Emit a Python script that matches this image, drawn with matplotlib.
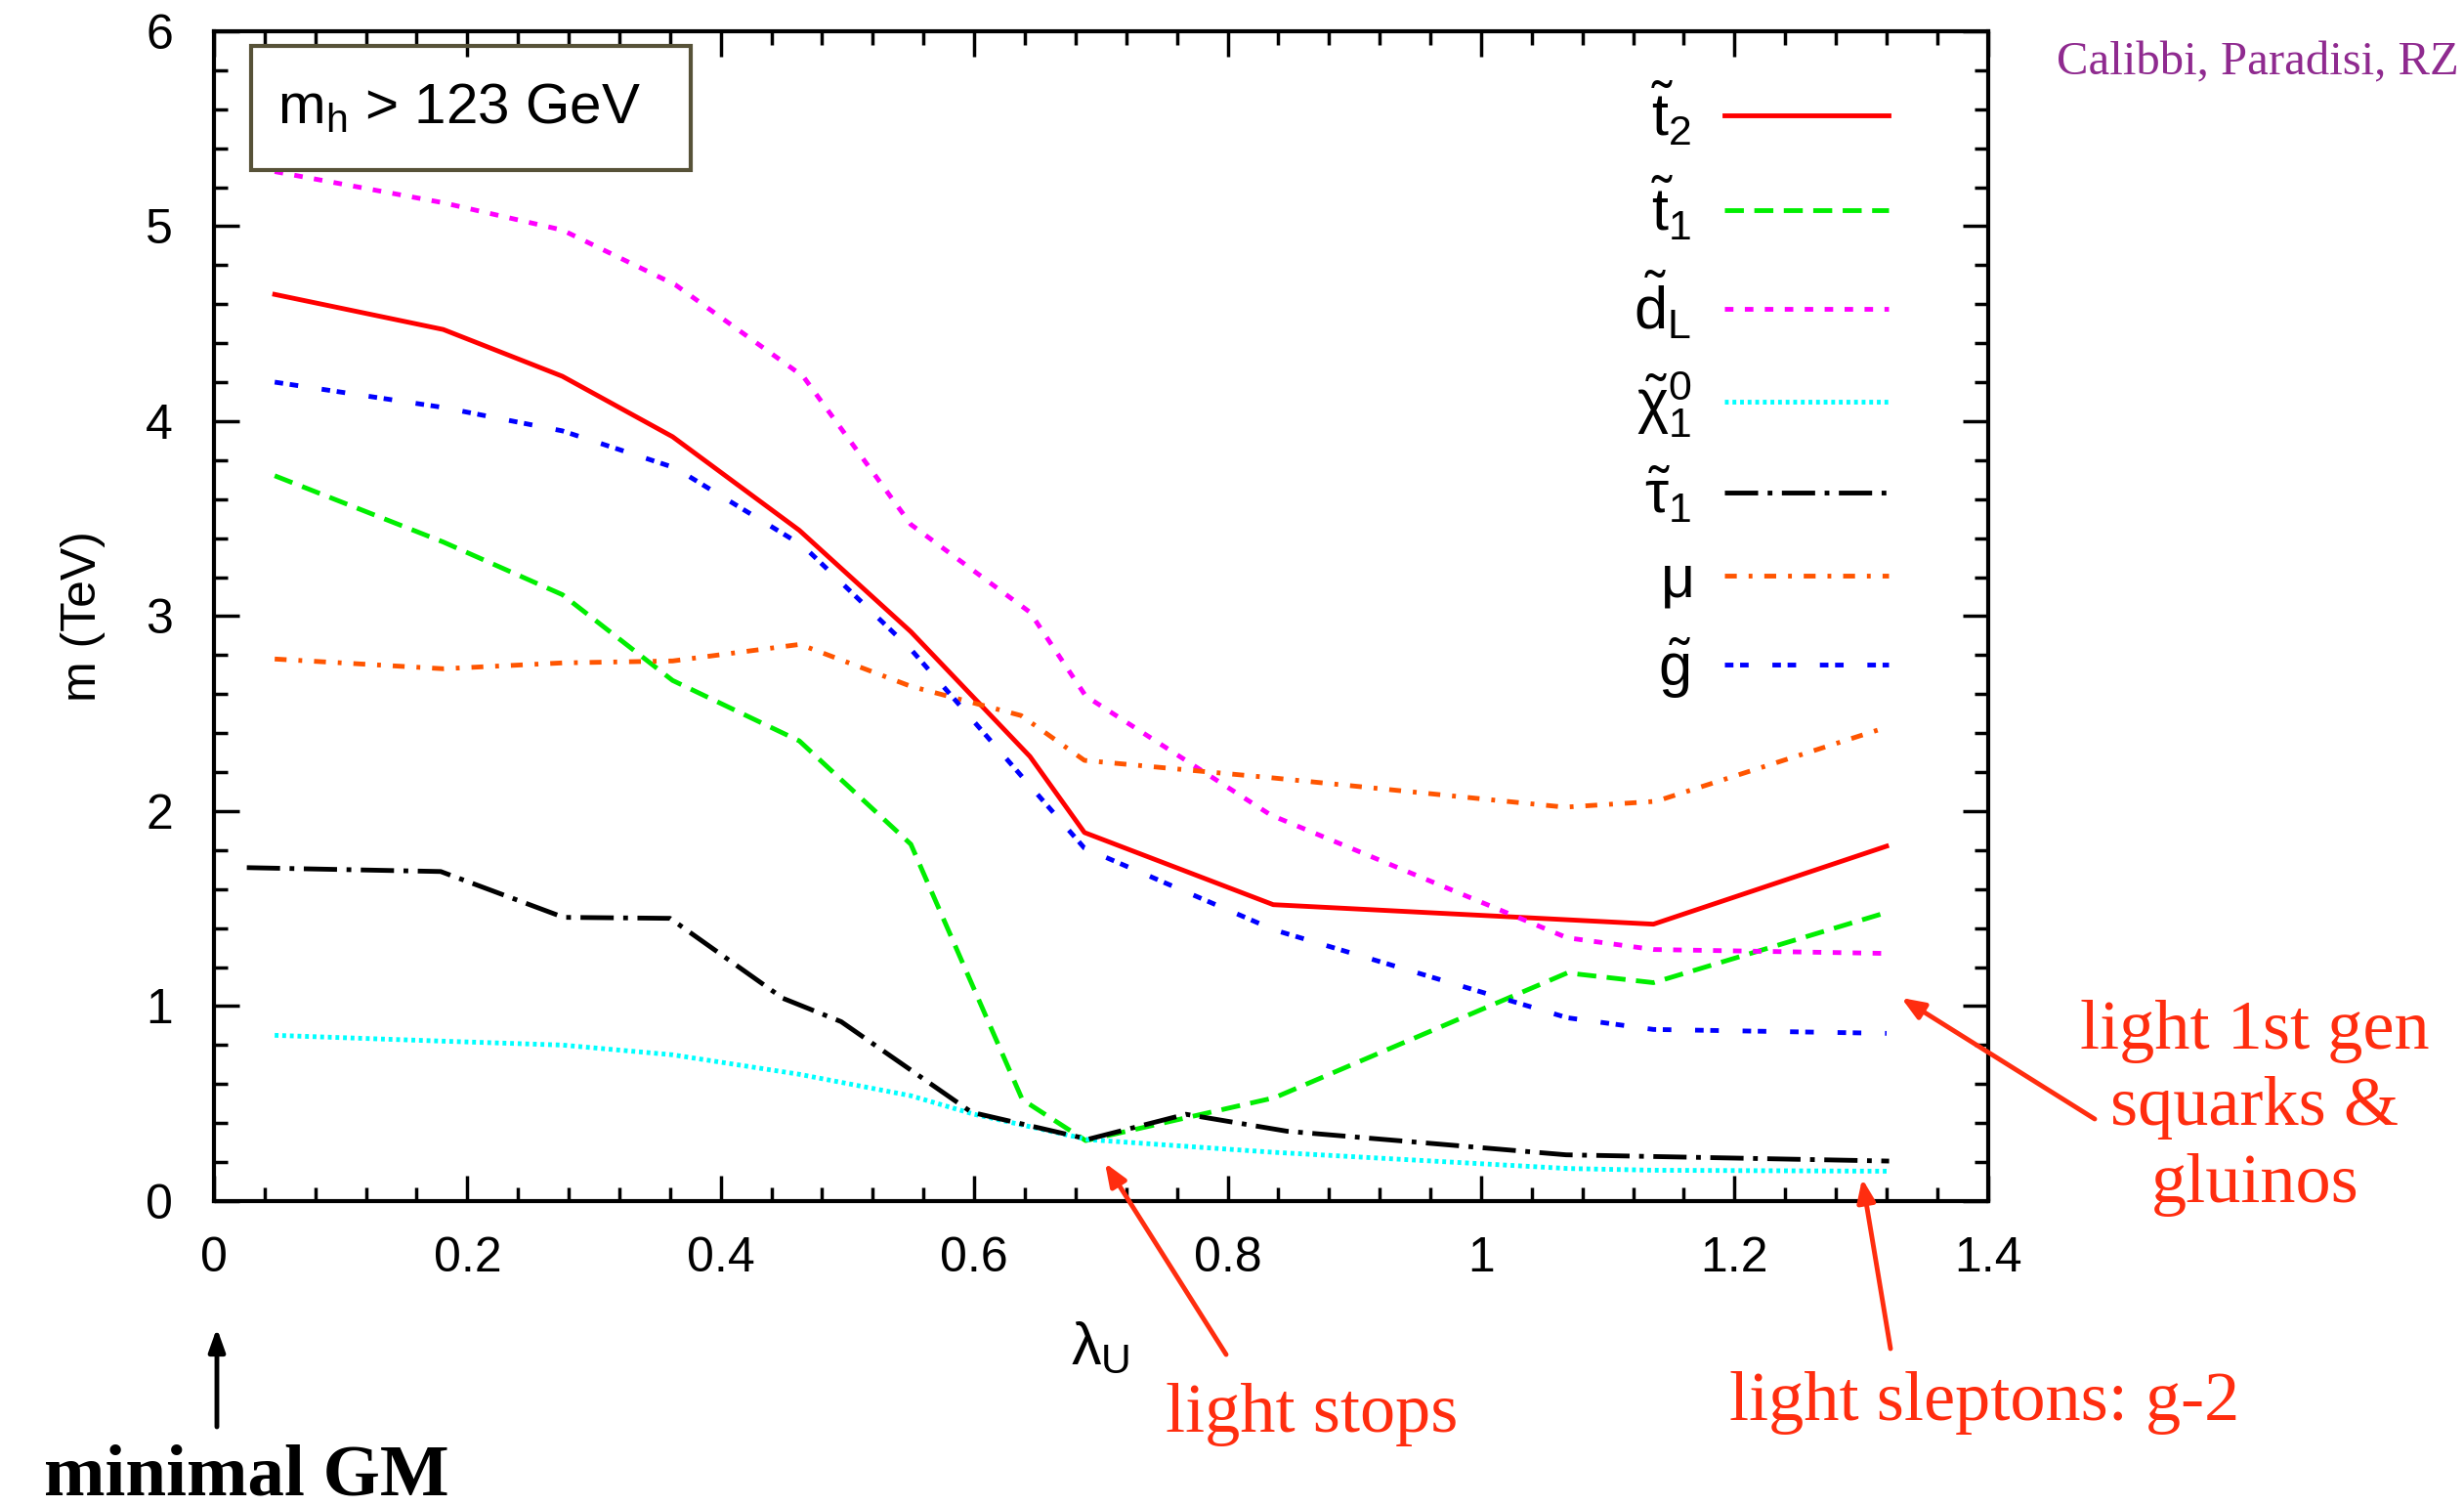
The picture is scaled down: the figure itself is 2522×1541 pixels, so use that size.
import numpy as np
import matplotlib.pyplot as plt
from matplotlib.patches import Rectangle
from matplotlib.ticker import MultipleLocator, FormatStrFormatter

plt.rcParams['font.family'] = ['Liberation Sans', 'DejaVu Sans']
plt.rcParams['mathtext.fontset'] = 'custom'
plt.rcParams['mathtext.rm'] = 'Liberation Sans'
plt.rcParams['mathtext.it'] = 'Liberation Sans'
plt.rcParams['mathtext.bf'] = 'Liberation Sans:bold'

# masses (TeV) vs lambda_U
x_t2 = [0.048, 0.181, 0.275, 0.362, 0.462, 0.55, 0.644, 0.687, 0.836, 1.136, 1.32]
m_t2 = [4.65, 4.47, 4.23, 3.92, 3.44, 2.92, 2.28, 1.89, 1.52, 1.42, 1.82]

x_t1 = [0.048, 0.181, 0.275, 0.362, 0.462, 0.55, 0.638, 0.688, 0.837, 1.068, 1.136, 1.32]
m_t1 = [3.72, 3.38, 3.11, 2.67, 2.36, 1.83, 0.52, 0.31, 0.53, 1.17, 1.12, 1.48]

x_dL = [0.048, 0.181, 0.275, 0.364, 0.465, 0.55, 0.644, 0.688, 0.834, 1.068, 1.136, 1.32]
m_dL = [5.28, 5.12, 4.98, 4.70, 4.23, 3.47, 3.02, 2.59, 1.98, 1.35, 1.29, 1.27]

x_chi = [0.048, 0.181, 0.275, 0.362, 0.462, 0.55, 0.6, 0.69, 0.836, 1.068, 1.136, 1.32]
m_chi = [0.85, 0.82, 0.80, 0.75, 0.65, 0.54, 0.445, 0.315, 0.25, 0.167, 0.158, 0.153]

x_tau = [0.026, 0.179, 0.276, 0.36, 0.449, 0.495, 0.598, 0.69, 0.767, 0.847, 1.067, 1.322]
m_tau = [1.71, 1.69, 1.455, 1.45, 1.04, 0.92, 0.455, 0.317, 0.445, 0.358, 0.237, 0.205]

x_mu = [0.048, 0.181, 0.275, 0.362, 0.4625, 0.55, 0.637, 0.687, 0.836, 1.066, 1.138, 1.32]
m_mu = [2.78, 2.73, 2.76, 2.77, 2.855, 2.64, 2.49, 2.26, 2.17, 2.02, 2.05, 2.43]

x_gl = [0.048, 0.181, 0.275, 0.364, 0.465, 0.55, 0.687, 0.837, 1.068, 1.136, 1.32]
m_gl = [4.20, 4.07, 3.95, 3.76, 3.36, 2.83, 1.81, 1.39, 0.94, 0.88, 0.86]

labels = [r'$\tilde{\rm t}_2$', r'$\tilde{\rm t}_1$', r'$\tilde{\rm d}_{\rm L}$',
          r'$\tilde{\chi}_1^0$', r'$\tilde{\tau}_1$', r'$\mu$', r'$\tilde{\rm g}$']

fig = plt.figure(figsize=(25.22, 15.41), dpi=100)
ax = fig.add_axes([0.0868, 0.2025, 0.720, 0.7768])

lw = 3.5
ax.plot(x_t2, m_t2, color='#ff0000', lw=lw, label=labels[0])
ax.plot(x_t1, m_t1, color='#00ee00', lw=lw, dashes=(4, 2.2), label=labels[1])
ax.plot(x_dL, m_dL, color='#ff00ff', lw=lw, dashes=(1.8, 2.4), label=labels[2])
ax.plot(x_chi, m_chi, color='#00ffff', lw=lw, dashes=(0.8, 0.8), label=labels[3])
ax.plot(x_tau, m_tau, color='black', lw=lw, dashes=(7, 2, 1, 2), label=labels[4])
ax.plot(x_mu, m_mu, color='#ff5500', lw=lw, dashes=(2.5, 2.5, 0.8, 2.5), label=labels[5])
ax.plot(x_gl, m_gl, color='#0000ff', lw=lw, dashes=(1.8, 1.4, 1.8, 5.0), label=labels[6])

ax.set_xlim(0, 1.4)
ax.set_ylim(0, 6)
ax.xaxis.set_major_locator(MultipleLocator(0.2))
ax.xaxis.set_minor_locator(MultipleLocator(0.04))
ax.yaxis.set_major_locator(MultipleLocator(1))
ax.yaxis.set_minor_locator(MultipleLocator(0.2))
ax.xaxis.set_major_formatter(FormatStrFormatter('%g'))
ax.tick_params(which='both', direction='in', top=True, right=True, width=2.5,
               labelsize=36)
ax.tick_params(which='major', length=19)
ax.tick_params(which='minor', length=10)
ax.tick_params(axis='x', pad=26)
ax.tick_params(axis='y', pad=30)
for s in ax.spines.values():
    s.set_linewidth(3)

ax.set_ylabel('m (TeV)', fontsize=36, labelpad=30)
fig.text(1126 / 2522, 1 - 1380 / 1541, r'$\lambda_{\rm U}$', fontsize=44,
         ha='center', va='center')

leg = ax.legend(loc='upper right', bbox_to_anchor=(0.944, 0.957), frameon=False,
                markerfirst=False, fontsize=44, handlelength=2.75,
                handletextpad=0.55, labelspacing=0.45, borderpad=0,
                borderaxespad=0)

# m_h box
ax.add_patch(Rectangle((0.021, 0.881), 0.248, 0.106, transform=ax.transAxes,
                       fill=False, edgecolor='#575238', lw=3, zorder=5))
ax.text(0.036, 0.934, r'm$_{\rm h}$ > 123 GeV', transform=ax.transAxes,
        fontsize=42, va='center', ha='left', zorder=6)

serif = ['Liberation Serif', 'DejaVu Serif']
fig.text(2517 / 2522, 1 - 64 / 1541, 'Calibbi, Paradisi, RZ', color='#8f2a8f',
         family=serif, fontsize=35, ha='right', va='center')


def px(x, y):
    return (x / 2522, 1 - y / 1541)


red = '#ff2d0f'
arrow = dict(arrowstyle='-|>,head_length=1.4,head_width=0.55', color=red, lw=3.5,
             shrinkA=0, shrinkB=0)
for start, end in [((2144, 1145), (1946, 1021)), ((1255, 1386), (1131, 1190)),
                   ((1935, 1380), (1906, 1206))]:
    ax.annotate('', xy=px(*end), xycoords=fig.transFigure, xytext=px(*start),
                textcoords=fig.transFigure, arrowprops=arrow, annotation_clip=False)

fig.text(*px(2308, 1134), 'light 1st gen\nsquarks &\ngluinos', color=red,
         family=serif, fontsize=52, ha='center', va='center', linespacing=1.27)
fig.text(*px(1343, 1448), 'light stops', color=red, family=serif, fontsize=52,
         ha='center', va='center')
fig.text(*px(2031, 1436), 'light sleptons: g-2', color=red, family=serif,
         fontsize=52, ha='center', va='center')

ax.annotate('', xy=px(222, 1359), xycoords=fig.transFigure, xytext=px(222, 1460),
            textcoords=fig.transFigure, annotation_clip=False,
            arrowprops=dict(arrowstyle='-|>,head_length=1.4,head_width=0.5',
                            color='black', lw=3.5, shrinkA=0, shrinkB=0))
fig.text(*px(252, 1512), 'minimal GM', family=serif, fontsize=54,
         fontweight='bold', ha='center', va='center')

fig.savefig('out.png', dpi=100)
